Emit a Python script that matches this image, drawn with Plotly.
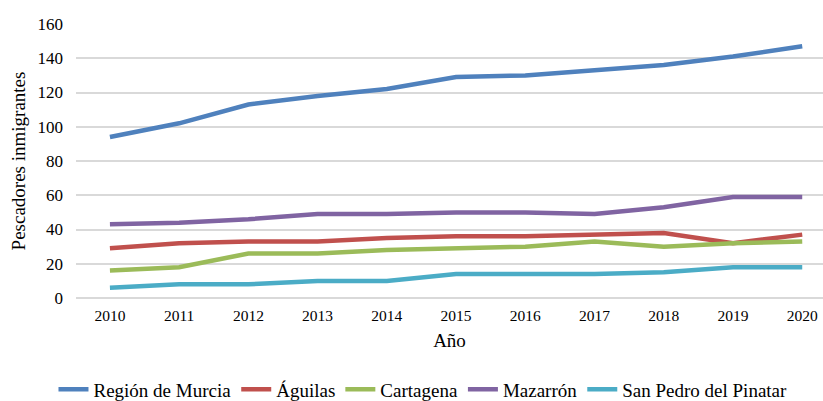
import plotly.graph_objects as go

years = ['2010', '2011', '2012', '2013', '2014', '2015', '2016', '2017', '2018', '2019', '2020']
region_murcia = [94, 102, 113, 118, 122, 129, 130, 133, 136, 141, 147]
aguilas = [29, 32, 33, 33, 35, 36, 36, 37, 38, 32, 37]
cartagena = [16, 18, 26, 26, 28, 29, 30, 33, 30, 32, 33]
mazarron = [43, 44, 46, 49, 49, 50, 50, 49, 53, 59, 59]
san_pedro = [6, 8, 8, 10, 10, 14, 14, 14, 15, 18, 18]

series = [
    ('Región de Murcia', region_murcia, '#4F81BD'),
    ('Águilas', aguilas, '#C0504D'),
    ('Cartagena', cartagena, '#9BBB59'),
    ('Mazarrón', mazarron, '#8064A2'),
    ('San Pedro del Pinatar', san_pedro, '#4BACC6'),
]

fig = go.Figure()
for name, vals, color in series:
    fig.add_trace(go.Scatter(
        x=list(range(len(years))),
        y=vals,
        mode='lines',
        name=name,
        line=dict(color=color, width=4.5),
    ))

serif = 'Liberation Serif, Times New Roman, serif'

fig.update_layout(
    width=823, height=401,
    margin=dict(l=76, r=0, t=24, b=103, autoexpand=False),
    paper_bgcolor='white',
    plot_bgcolor='white',
    font=dict(family=serif, color='#000000'),
    showlegend=True,
    legend=dict(
        orientation='h',
        x=0.4645, xanchor='center',
        y=-0.334, yanchor='middle',
        font=dict(size=19, family=serif),
        itemwidth=30,
        tracegroupgap=0,
    ),
    xaxis=dict(
        tickmode='array',
        tickvals=list(range(len(years))),
        ticktext=years,
        range=[-0.49, 10.30],
        automargin=False,
        showgrid=False,
        zeroline=False,
        showline=False,
        ticks='',
        ticklabelstandoff=6,
        tickfont=dict(size=15.5, family=serif),
        title=dict(text='Año', font=dict(size=19, family=serif), standoff=11),
    ),
    yaxis=dict(
        range=[0, 160],
        tickvals=[0, 20, 40, 60, 80, 100, 120, 140, 160],
        automargin=False,
        showgrid=True,
        gridcolor='#D9D9D9',
        gridwidth=1.5,
        zeroline=True,
        zerolinecolor='#D9D9D9',
        zerolinewidth=1.5,
        showline=False,
        ticks='',
        ticklabelstandoff=12,
        tickfont=dict(size=17, family=serif),
        title=dict(text='Pescadores inmigrantes', font=dict(size=19, family=serif), standoff=6),
    ),
)

# the page keeps the browser's default 8px body margin; drop it
fig.write_html('out.html', config={'displayModeBar': False},
               post_script="document.body.style.margin='0';")
